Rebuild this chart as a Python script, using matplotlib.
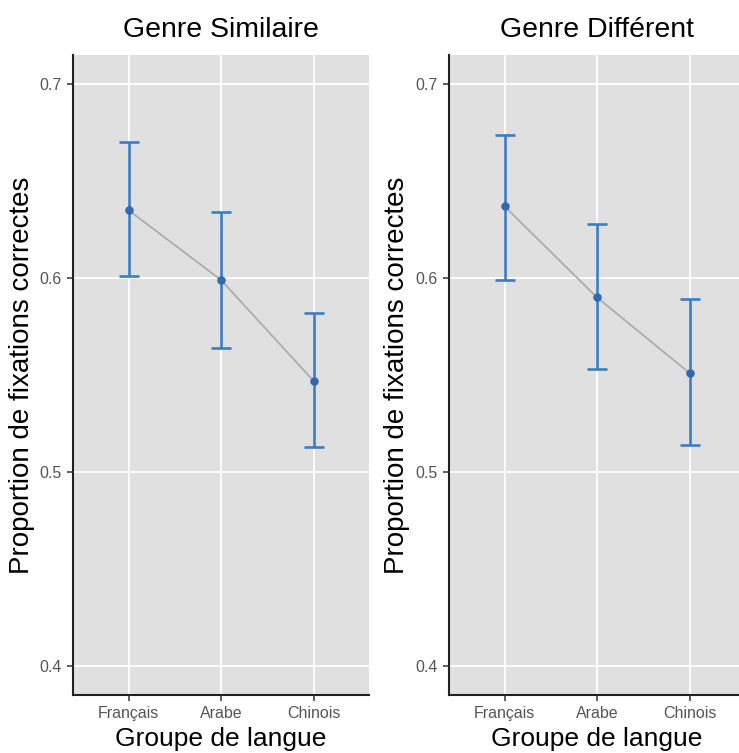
import matplotlib
matplotlib.use("Agg")
import matplotlib.pyplot as plt

plt.rcParams['font.family'] = ['Liberation Sans', 'DejaVu Sans']

# ------------------------------------------------------------------
# Donnees
# ------------------------------------------------------------------
groupes = ["Français", "Arabe", "Chinois"]
titres = ["Genre Similaire", "Genre Différent"]

moy_similaire = [0.635, 0.599, 0.547]
haut_similaire = [0.670, 0.634, 0.582]
bas_similaire = [0.601, 0.564, 0.513]

moy_different = [0.637, 0.590, 0.551]
haut_different = [0.674, 0.628, 0.589]
bas_different = [0.599, 0.553, 0.514]

yticks = [0.4, 0.5, 0.6, 0.7]

panneaux = [
    (titres[0], moy_similaire, haut_similaire, bas_similaire),
    (titres[1], moy_different, haut_different, bas_different),
]

# ------------------------------------------------------------------
# Figure
# ------------------------------------------------------------------
W, H = 739, 753
fig = plt.figure(figsize=(W / 100, H / 100), dpi=100)

gauches = [73, 449]
larg = 296
haut_px, bas_px = 55, 695
ylabel_x = [22, 397]

fond = "#E0E0E0"
bleu = "#3B7DC4"
bleu_pt = "#2F6AB0"

for k, (titre, moy, hi, lo) in enumerate(panneaux):
    ax = fig.add_axes([gauches[k] / W, 1 - bas_px / H, larg / W, (bas_px - haut_px) / H])
    ax.set_facecolor(fond)
    x = list(range(len(groupes)))

    ax.plot(x, moy, color="#ADADAD", linewidth=1.3, zorder=2)
    err_bas = [m - l for m, l in zip(moy, lo)]
    err_haut = [h - m for m, h in zip(moy, hi)]
    ax.errorbar(x, moy, yerr=[err_bas, err_haut], fmt="none", ecolor=bleu,
                elinewidth=1.9, capsize=7, capthick=1.9, zorder=3)
    ax.scatter(x, moy, s=26, color=bleu_pt, zorder=4)

    ax.set_xlim(-0.6, 2.6)
    ax.set_ylim(0.385, 0.715)
    ax.set_xticks(x)
    ax.set_xticklabels(groupes)
    ax.set_yticks(yticks)
    ax.set_yticklabels([str(v) for v in yticks])

    ax.grid(True, color="white", linewidth=1.3)
    ax.set_axisbelow(True)
    for s in ["top", "right"]:
        ax.spines[s].set_visible(False)
    for s in ["left", "bottom"]:
        ax.spines[s].set_color("#222222")
        ax.spines[s].set_linewidth(1.5)
    ax.tick_params(axis="both", length=4, width=1.1, color="#333333",
                   labelsize=11.5, labelcolor="#555555", pad=4)

    ax.set_title(titre, fontsize=20.5, color="black", pad=13)
    ax.set_xlabel("Groupe de langue", fontsize=19, color="black", labelpad=4)
    fig.text(ylabel_x[k] / W, 1 - 375 / H, "Proportion de fixations correctes",
             rotation=90, fontsize=20, ha="center", va="center")

fig.savefig("out.png", dpi=100)
